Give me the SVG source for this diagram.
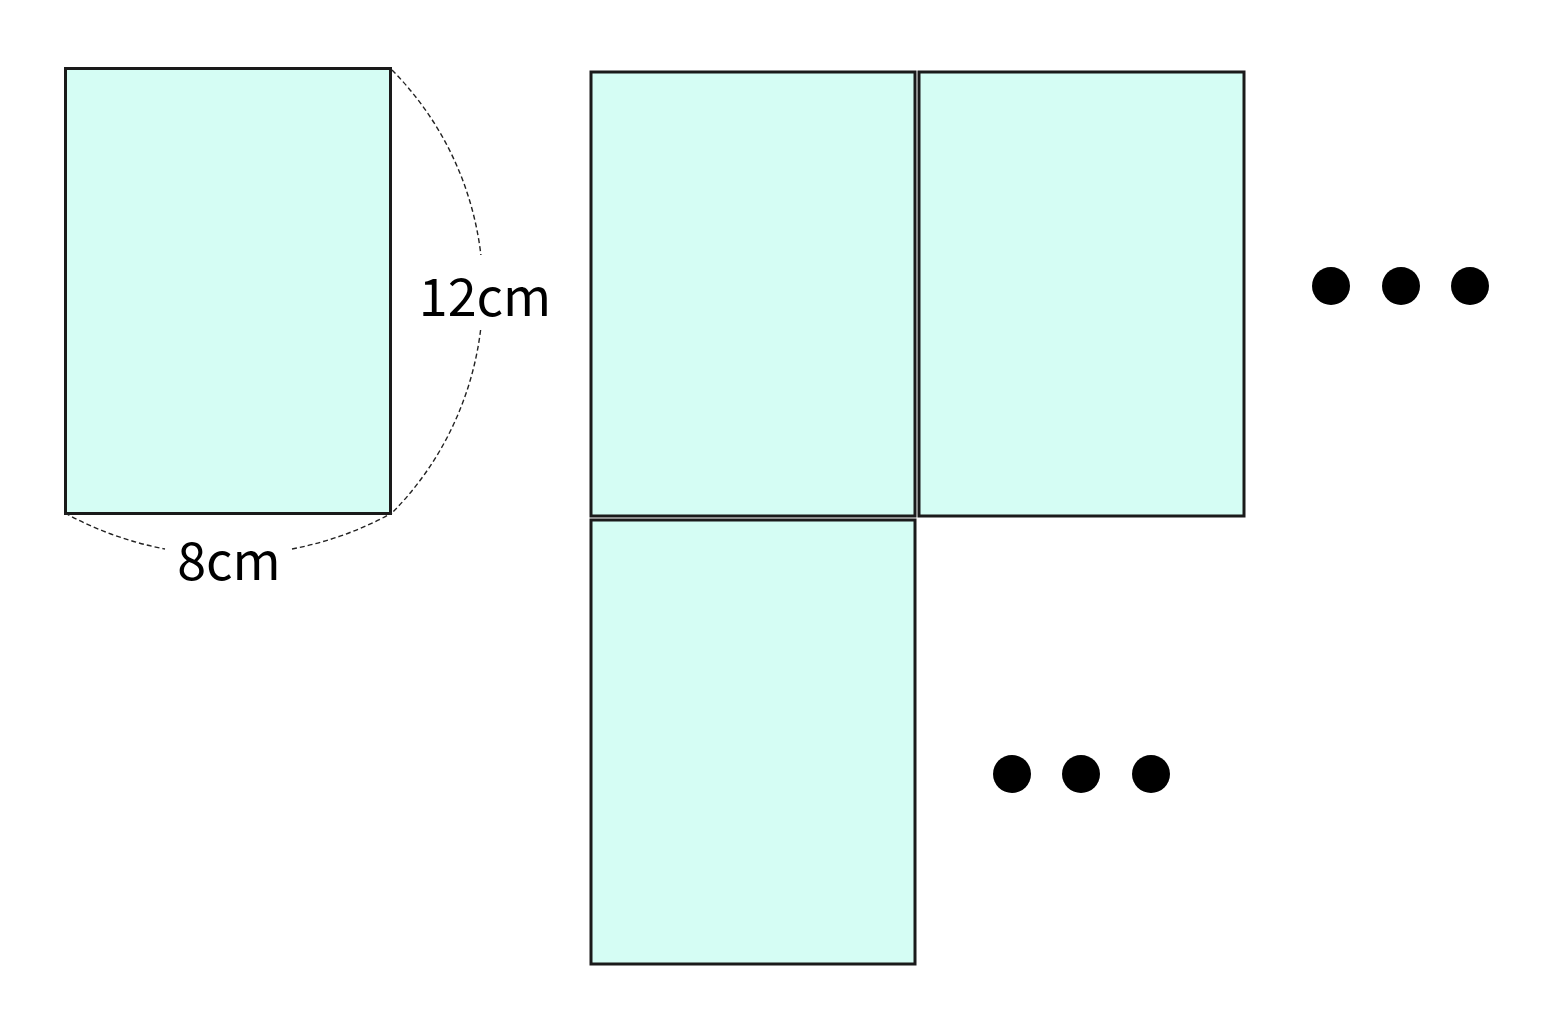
<svg xmlns="http://www.w3.org/2000/svg" width="1544" height="1013" viewBox="0 0 1544 1013">
<style>
.r{fill:#d5fdf4;stroke:#1a1a1a;stroke-width:3}
.d{fill:none;stroke:#222;stroke-width:1.4;stroke-dasharray:5 3}
.t{font-family:"Noto Sans CJK SC","Noto Sans",sans-serif;font-size:52px;fill:#000}
.dot{fill:#000}
</style>
<rect width="1544" height="1013" fill="#fff"/>
<g id="ref-rect"><rect class="r" x="65.5" y="68.5" width="325" height="445"/></g>
<g id="rect-a"><rect class="r" x="591" y="72" width="324" height="444"/></g>
<g id="rect-b"><rect class="r" x="919" y="72" width="325" height="444"/></g>
<g id="rect-c"><rect class="r" x="591" y="520" width="324" height="444"/></g>
<g id="connectors">
<path class="d" d="M392,70 A315,315 0 0,1 480.9,255"/>
<path class="d" d="M480.6,330 A315,315 0 0,1 392,513"/>
<path class="d" d="M65,513 A339,339 0 0,0 165,549"/>
<path class="d" d="M292,549 A339,339 0 0,0 392,513"/>
</g>
<g id="labels">
<text class="t" x="485" y="316" text-anchor="middle">12cm</text>
<text class="t" x="229" y="580" text-anchor="middle">8cm</text>
</g>
<g id="dots-top">
<circle class="dot" cx="1331" cy="286" r="19"/>
<circle class="dot" cx="1401" cy="286" r="19"/>
<circle class="dot" cx="1470" cy="286" r="19"/>
</g>
<g id="dots-bottom">
<circle class="dot" cx="1012" cy="774" r="19"/>
<circle class="dot" cx="1081" cy="774" r="19"/>
<circle class="dot" cx="1151" cy="774" r="19"/>
</g>
</svg>
